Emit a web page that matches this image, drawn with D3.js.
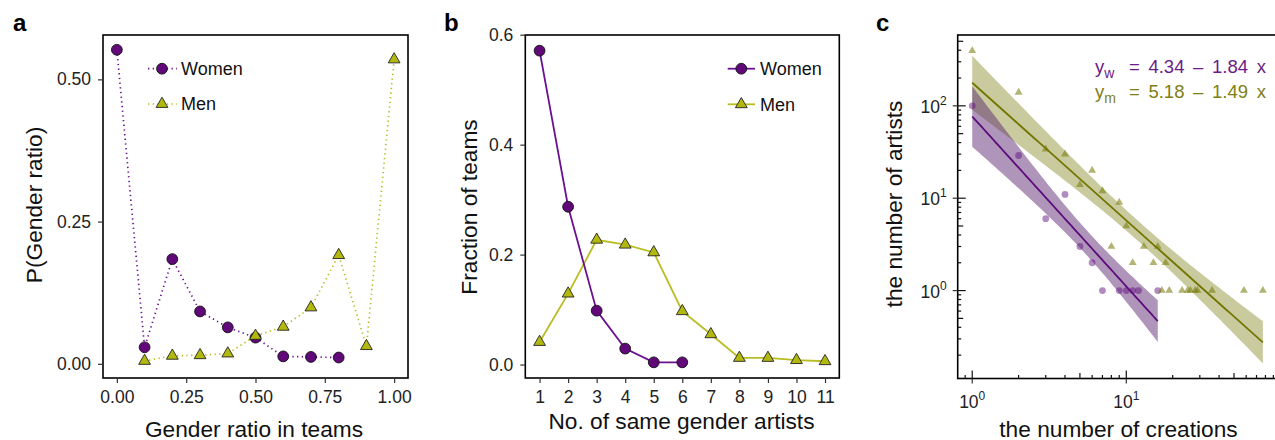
<!DOCTYPE html>
<html>
<head>
<meta charset="utf-8">
<script src="https://cdn.jsdelivr.net/npm/d3@7"></script>
<style>
  body { margin: 0; background: #fff; }
  svg { display: block; font-family: "Liberation Sans", Arial, Helvetica, sans-serif; }
</style>
</head>
<body>
<svg id="fig" width="1275" height="440"></svg>
<script>
// ---- Panel a: gender ratio distribution ----
const ratioWomenX = [0, 0.1, 0.2, 0.3, 0.4, 0.5, 0.6, 0.7, 0.8];
const ratioWomenP = [0.552, 0.029, 0.184, 0.092, 0.064, 0.046, 0.013, 0.012, 0.011];
const ratioMenX = [0.1, 0.2, 0.3, 0.4, 0.5, 0.6, 0.7, 0.8, 0.9, 1.0];
const ratioMenP = [0.005, 0.014, 0.015, 0.018, 0.049, 0.065, 0.099, 0.191, 0.031, 0.535];
const ratioTicksX = [0, 0.25, 0.5, 0.75, 1];
const ratioTicksY = [0, 0.25, 0.5];

// ---- Panel b: number of same-gender artists per team ----
const sameWomenN = [1, 2, 3, 4, 5, 6];
const sameWomenF = [0.571, 0.287, 0.098, 0.029, 0.004, 0.004];
const sameMenN = [1, 2, 3, 4, 5, 6, 7, 8, 9, 10, 11];
const sameMenF = [0.041, 0.129, 0.227, 0.218, 0.204, 0.097, 0.055, 0.012, 0.012, 0.008, 0.006];
const sameTicksX = [1, 2, 3, 4, 5, 6, 7, 8, 9, 10, 11];
const sameTicksY = [0, 0.2, 0.4, 0.6];

// ---- Panel c: creations per artist (log-log) ----
const creWomenX = [1, 2, 3, 4, 5, 6, 7, 9, 10, 11, 12, 16];
const creWomenY = [100, 29, 6, 11, 3, 2, 1, 1, 1, 1, 1, 1];
const creMenX = [1, 2, 3, 4, 5, 6, 7, 8, 9, 10, 11, 13, 15, 16, 17, 18, 19, 23, 25, 26, 28, 29, 36, 58, 77];
const creMenY = [395, 140, 34, 30, 14, 20, 12, 3, 9, 5, 2, 3, 2, 3, 1, 2, 1, 1, 1, 1, 1, 1, 1, 1, 1];
// fitted ln(y) = intercept + slope * ln(x)
const fitIntercept = { women: 4.34, men: 5.18 };
const fitSlope = { women: -1.84, men: -1.49 };
const logTickExps = [0, 1];
const logTickExpsY = [0, 1, 2];

const seriesNames = ["Women", "Men"];

// colours
const PURPLE = "#62097A";
const PURPLE_LINE = "#6A1190";
const YELLOW = "#B3B80C";
const YELLOW_LINE = "#B9BD22";
const C_W = "#5E0C7C";
const C_M = "#727600";
const C_W_BAND = "#58226F";
const C_W_TXT = "#6B1C88";
const C_M_TXT = "#7E8012";

const svg = d3.select("#fig");
const TICK_FONT = 17.5, TITLE_FONT = 22.7, LEG_FONT = 18;

function panelLabel(txt, x, y) {
  svg.append("text").attr("x", x).attr("y", y).attr("font-size", 24)
    .attr("font-weight", "bold").attr("fill", "#000").text(txt);
}

function frame(g, x0, x1, y0, y1) {
  g.append("rect").attr("x", x0).attr("y", y0).attr("width", x1 - x0).attr("height", y1 - y0)
    .attr("fill", "none").attr("stroke", "#000").attr("stroke-width", 1.6);
}

function linearAxes(g, x, y, xt, yt, xfmt, yfmt) {
  const [y1] = y.range();
  const [x0] = x.range();
  const ax = g.append("g").attr("transform", `translate(0,${y1})`)
    .call(d3.axisBottom(x).tickValues(xt).tickFormat(xfmt).tickSize(5).tickPadding(7.5));
  const ay = g.append("g").attr("transform", `translate(${x0},0)`)
    .call(d3.axisLeft(y).tickValues(yt).tickFormat(yfmt).tickSize(5).tickPadding(7));
  [ax, ay].forEach(a => {
    a.select(".domain").remove();
    a.selectAll("line").attr("stroke", "#333").attr("stroke-width", 1.2);
    a.selectAll("text").attr("font-size", TICK_FONT).attr("fill", "#222")
      .attr("font-family", null);
  });
}

function triangle(area) { return d3.symbol().type(d3.symbolTriangle).size(area)(); }

// ================= Panel a =================
{
  const g = svg.append("g");
  const x = d3.scaleLinear().domain([-0.05, 1.05]).range([103, 408]);
  const y = d3.scaleLinear().domain([-0.025, 0.578]).range([378, 35]);
  const line = d3.line();
  const wPts = ratioWomenX.map((v, i) => [x(v), y(ratioWomenP[i])]);
  const mPts = ratioMenX.map((v, i) => [x(v), y(ratioMenP[i])]);

  g.append("path").attr("d", line(wPts)).attr("fill", "none").attr("stroke", PURPLE_LINE)
    .attr("stroke-width", 1.7).attr("stroke-dasharray", "1.3 3.4");
  g.append("path").attr("d", line(mPts)).attr("fill", "none").attr("stroke", YELLOW_LINE)
    .attr("stroke-width", 1.7).attr("stroke-dasharray", "1.3 3.4");

  g.selectAll(".wc").data(wPts).join("circle").attr("cx", d => d[0]).attr("cy", d => d[1])
    .attr("r", 5.4).attr("fill", PURPLE).attr("stroke", "#111").attr("stroke-width", 0.9);
  g.selectAll(".mt").data(mPts).join("path").attr("d", triangle(60))
    .attr("transform", d => `translate(${d[0]},${d[1]})`)
    .attr("fill", YELLOW).attr("stroke", "#222").attr("stroke-width", 0.9);

  frame(g, 103, 408, 35, 378);
  linearAxes(g, x, y, ratioTicksX, ratioTicksY, d3.format(".2f"), d3.format(".2f"));

  // legend
  const legY = [68.7, 104];
  seriesNames.forEach((name, i) => {
    g.append("line").attr("x1", 148).attr("x2", 177).attr("y1", legY[i]).attr("y2", legY[i])
      .attr("stroke", i ? YELLOW_LINE : PURPLE_LINE).attr("stroke-width", 1.7)
      .attr("stroke-dasharray", "1.3 3.4");
    if (i === 0) {
      g.append("circle").attr("cx", 162).attr("cy", legY[i]).attr("r", 5.4)
        .attr("fill", PURPLE).attr("stroke", "#111").attr("stroke-width", 0.9);
    } else {
      g.append("path").attr("d", triangle(60)).attr("transform", `translate(162,${legY[i]})`)
        .attr("fill", YELLOW).attr("stroke", "#222").attr("stroke-width", 0.9);
    }
    g.append("text").attr("x", 181).attr("y", legY[i] + 6.4).attr("font-size", LEG_FONT)
      .attr("fill", "#111").text(name);
  });

  g.append("text").attr("x", 254).attr("y", 436.5).attr("text-anchor", "middle")
    .attr("font-size", TITLE_FONT).attr("fill", "#111").text("Gender ratio in teams");
  g.append("text").attr("transform", "translate(42,205) rotate(-90)").attr("text-anchor", "middle")
    .attr("font-size", TITLE_FONT).attr("fill", "#111").text("P(Gender ratio)");
  panelLabel("a", 13, 31);
}

// ================= Panel b =================
{
  const g = svg.append("g");
  const x = d3.scaleLinear().domain([0.5, 11.5]).range([525.3, 839.3]);
  const y = d3.scaleLinear().domain([-0.0245, 0.5995]).range([378, 35]);
  const line = d3.line();
  const wPts = sameWomenN.map((v, i) => [x(v), y(sameWomenF[i])]);
  const mPts = sameMenN.map((v, i) => [x(v), y(sameMenF[i])]);

  g.append("path").attr("d", line(mPts)).attr("fill", "none").attr("stroke", YELLOW_LINE).attr("stroke-width", 1.8);
  g.append("path").attr("d", line(wPts)).attr("fill", "none").attr("stroke", PURPLE_LINE).attr("stroke-width", 1.8);
  g.selectAll(".mt").data(mPts).join("path").attr("d", triangle(60))
    .attr("transform", d => `translate(${d[0]},${d[1]})`)
    .attr("fill", YELLOW).attr("stroke", "#222").attr("stroke-width", 0.9);
  g.selectAll(".wc").data(wPts).join("circle").attr("cx", d => d[0]).attr("cy", d => d[1])
    .attr("r", 5.4).attr("fill", PURPLE).attr("stroke", "#111").attr("stroke-width", 0.9);

  frame(g, 525.3, 839.3, 35, 378);
  linearAxes(g, x, y, sameTicksX, sameTicksY, d3.format("d"), d3.format(".1f"));

  const legY = [68.7, 104.3];
  seriesNames.forEach((name, i) => {
    g.append("line").attr("x1", 727.7).attr("x2", 755).attr("y1", legY[i]).attr("y2", legY[i])
      .attr("stroke", i ? YELLOW_LINE : PURPLE_LINE).attr("stroke-width", 1.8);
    if (i === 0) {
      g.append("circle").attr("cx", 741.3).attr("cy", legY[i]).attr("r", 5.4)
        .attr("fill", PURPLE).attr("stroke", "#111").attr("stroke-width", 0.9);
    } else {
      g.append("path").attr("d", triangle(60)).attr("transform", `translate(741.3,${legY[i]})`)
        .attr("fill", YELLOW).attr("stroke", "#222").attr("stroke-width", 0.9);
    }
    g.append("text").attr("x", 760).attr("y", legY[i] + 6.4).attr("font-size", LEG_FONT)
      .attr("fill", "#111").text(name);
  });

  g.append("text").attr("x", 681.5).attr("y", 429).attr("text-anchor", "middle")
    .attr("font-size", TITLE_FONT).attr("fill", "#111").text("No. of same gender artists");
  g.append("text").attr("transform", "translate(477,207) rotate(-90)").attr("text-anchor", "middle")
    .attr("font-size", TITLE_FONT).attr("fill", "#111").text("Fraction of teams");
  panelLabel("b", 444, 31);
}

// ================= Panel c =================
{
  const g = svg.append("g");
  const X0 = 957.7, X1 = 1277.3, Y0 = 35, Y1 = 378.5;
  const x = d3.scaleLog().domain([Math.pow(10, -0.0943), Math.pow(10, 1.98)]).range([X0, X1]);
  const y = d3.scaleLog().domain([Math.pow(10, -0.952), Math.pow(10, 2.767)]).range([Y1, Y0]);

  // t quantile (0.975) via Cornish-Fisher expansion
  function tq(df) {
    const z = 1.959964;
    return z + (z ** 3 + z) / (4 * df) + (5 * z ** 5 + 16 * z ** 3 + 3 * z) / (96 * df * df)
      + (3 * z ** 7 + 19 * z ** 5 + 17 * z ** 3 - 15 * z) / (384 * df ** 3);
  }
  // 95% confidence band around the fitted line in log-log space
  function band(xs, ys, a, b) {
    const lx = xs.map(Math.log), ly = ys.map(Math.log), n = xs.length;
    const mx = d3.mean(lx);
    const sxx = d3.sum(lx, v => (v - mx) ** 2);
    const ssr = d3.sum(lx, (v, i) => (ly[i] - (a + b * v)) ** 2);
    const s = Math.sqrt(ssr / (n - 2)), t = tq(n - 2);
    const lo = d3.min(lx), hi = d3.max(lx);
    return d3.range(0, 81).map(k => {
      const v = lo + (hi - lo) * k / 80;
      const f = a + b * v;
      const hw = t * s * Math.sqrt(1 / n + (v - mx) ** 2 / sxx);
      return { x: Math.exp(v), fit: Math.exp(f), lo: Math.exp(f - hw), hi: Math.exp(f + hw) };
    });
  }
  const bandW = band(creWomenX, creWomenY, fitIntercept.women, fitSlope.women);
  const bandM = band(creMenX, creMenY, fitIntercept.men, fitSlope.men);

  g.append("clipPath").attr("id", "clipc").append("rect")
    .attr("x", X0).attr("y", Y0).attr("width", X1 - X0).attr("height", Y1 - Y0);
  const inner = g.append("g").attr("clip-path", "url(#clipc)");

  const area = d3.area().x(d => x(d.x)).y0(d => y(d.lo)).y1(d => y(d.hi));
  const fitLine = d3.line().x(d => x(d.x)).y(d => y(d.fit));

  inner.append("path").attr("d", area(bandM)).attr("fill", C_M).attr("fill-opacity", 0.38);
  inner.append("path").attr("d", area(bandW)).attr("fill", C_W_BAND).attr("fill-opacity", 0.48);

  inner.selectAll(".cw").data(creWomenX).join("circle")
    .attr("cx", (d) => x(d)).attr("cy", (d, i) => y(creWomenY[i])).attr("r", 3.4)
    .attr("fill", C_W).attr("fill-opacity", 0.48);
  inner.selectAll(".cm").data(creMenX).join("path").attr("d", triangle(27))
    .attr("transform", (d, i) => `translate(${x(d)},${y(creMenY[i])})`)
    .attr("fill", C_M).attr("fill-opacity", 0.55);

  inner.append("path").attr("d", fitLine(bandM)).attr("fill", "none").attr("stroke", C_M).attr("stroke-width", 1.8);
  inner.append("path").attr("d", fitLine(bandW)).attr("fill", "none").attr("stroke", C_W).attr("stroke-width", 1.8);

  frame(g, X0, X1, Y0, Y1);

  // log ticks: long at decades, mid at 5, short elsewhere (inside), plus outward major ticks
  const tickLen = m => (m === 1 ? 8 : m === 5 ? 5.5 : 3.5);
  const [dx0, dx1] = x.domain(), [dy0, dy1] = y.domain();
  for (let e = -1; e <= 2; e++) {
    for (let m = 1; m <= 9; m++) {
      const v = m * Math.pow(10, e);
      if (v >= dx0 && v <= dx1) {
        g.append("line").attr("x1", x(v)).attr("x2", x(v)).attr("y1", Y1).attr("y2", Y1 - tickLen(m))
          .attr("stroke", "#111").attr("stroke-width", 1.2);
      }
      if (v >= dy0 && v <= dy1) {
        g.append("line").attr("y1", y(v)).attr("y2", y(v)).attr("x1", X0).attr("x2", X0 + tickLen(m))
          .attr("stroke", "#111").attr("stroke-width", 1.2);
      }
    }
  }
  logTickExps.forEach(e => {
    const px = x(Math.pow(10, e));
    g.append("line").attr("x1", px).attr("x2", px).attr("y1", Y1).attr("y2", Y1 + 5)
      .attr("stroke", "#333").attr("stroke-width", 1.2);
    const t = g.append("text").attr("x", px).attr("y", Y1 + 29).attr("text-anchor", "middle")
      .attr("font-size", TICK_FONT).attr("fill", "#222");
    t.append("tspan").text("10");
    t.append("tspan").attr("font-size", 12).attr("dy", -8).text(String(e));
  });
  logTickExpsY.forEach(e => {
    const py = y(Math.pow(10, e));
    g.append("line").attr("x1", X0 - 5).attr("x2", X0).attr("y1", py).attr("y2", py)
      .attr("stroke", "#333").attr("stroke-width", 1.2);
    const t = g.append("text").attr("x", X0 - 11).attr("y", py + 7).attr("text-anchor", "end")
      .attr("font-size", TICK_FONT).attr("fill", "#222");
    t.append("tspan").text("10");
    t.append("tspan").attr("font-size", 12).attr("dy", -8).text(String(e));
  });

  // fitted equations
  const eqs = [
    { sub: "w", rest: `= ${fitIntercept.women.toFixed(2)} \u2013 ${Math.abs(fitSlope.women).toFixed(2)} x`, col: C_W_TXT, yb: 73.3 },
    { sub: "m", rest: `= ${fitIntercept.men.toFixed(2)} \u2013 ${Math.abs(fitSlope.men).toFixed(2)} x`, col: C_M_TXT, yb: 97.7 }
  ];
  eqs.forEach(q => {
    const t = g.append("text").attr("x", 1095).attr("y", q.yb).attr("font-size", 18.5)
      .attr("fill", q.col).attr("word-spacing", 3.5);
    t.append("tspan").text("y");
    t.append("tspan").attr("font-size", 14).attr("dy", 5).text(q.sub);
    t.append("tspan").attr("x", 1129).attr("dy", -5).text(q.rest);
  });

  g.append("text").attr("x", 1118.5).attr("y", 436.5).attr("text-anchor", "middle")
    .attr("font-size", TITLE_FONT).attr("fill", "#111").text("the number of creations");
  g.append("text").attr("transform", "translate(902,204) rotate(-90)").attr("text-anchor", "middle")
    .attr("font-size", TITLE_FONT).attr("fill", "#111").text("the number of artists");
  panelLabel("c", 876, 31);
}
</script>
</body>
</html>
